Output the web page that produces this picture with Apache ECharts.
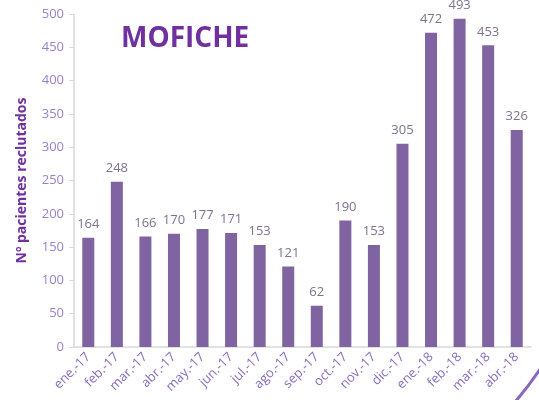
<!DOCTYPE html>
<html>
<head>
<meta charset="utf-8">
<script src="https://cdn.jsdelivr.net/npm/echarts@6/dist/echarts.min.js"></script>
<style>
  html, body { margin: 0; padding: 0; background: #fff; }
  #echarts { width: 539px; height: 400px; }
</style>
</head>
<body>
<div id="echarts"></div>
<script>
const months = ['ene.-17', 'feb.-17', 'mar.-17', 'abr.-17', 'may.-17', 'jun.-17', 'jul.-17', 'ago.-17',
  'sep.-17', 'oct.-17', 'nov.-17', 'dic.-17', 'ene.-18', 'feb.-18', 'mar.-18', 'abr.-18']
const patients = [164, 248, 166, 170, 177, 171, 153, 121, 62, 190, 153, 305, 472, 493, 453, 326]

const myChart = echarts.init(document.getElementById('echarts'))
myChart.setOption({
  animation: false,
  textStyle: { fontFamily: 'Open Sans' },
  title: {
    text: 'MOFICHE',
    left: 116,
    top: 20,
    textStyle: { color: '#7030A0', fontSize: 28, fontWeight: 'bold', fontFamily: 'Open Sans' }
  },
  grid: {
    top: 14,
    left: 74,
    right: 8,
    bottom: 53
  },
  xAxis: {
    type: 'category',
    data: months,
    axisLine: { lineStyle: { color: '#d9d9d9', width: 1.5 } },
    axisTick: { show: false },
    axisLabel: { rotate: 45, color: '#8a6cbf', fontSize: 13, margin: 8, interval: 0 }
  },
  yAxis: {
    type: 'value',
    min: 0,
    max: 500,
    interval: 50,
    name: 'Nº pacientes reclutados',
    nameLocation: 'middle',
    nameGap: 45,
    nameTextStyle: { color: '#7030A0', fontSize: 14, fontWeight: 'bold' },
    axisLine: { show: true, lineStyle: { color: '#d9d9d9', width: 1.5 } },
    axisTick: { show: true, length: 5, lineStyle: { color: '#d9d9d9' } },
    splitLine: { show: false },
    axisLabel: { color: '#9b80c8', fontSize: 13, margin: 10 }
  },
  series: [
    {
      name: 'Pacientes',
      type: 'bar',
      data: patients,
      barWidth: 12,
      itemStyle: { color: '#8064A2' },
      label: { show: true, position: 'top', distance: 7, color: '#7f7190', fontSize: 13 }
    }
  ],
  graphic: [
    {
      type: 'arc',
      shape: { cx: 270, cy: 190, r: 324, startAngle: 0.45, endAngle: 0.8 },
      style: { stroke: '#8a66c0', lineWidth: 3, fill: null },
      silent: true
    }
  ]
})
</script>
</body>
</html>
